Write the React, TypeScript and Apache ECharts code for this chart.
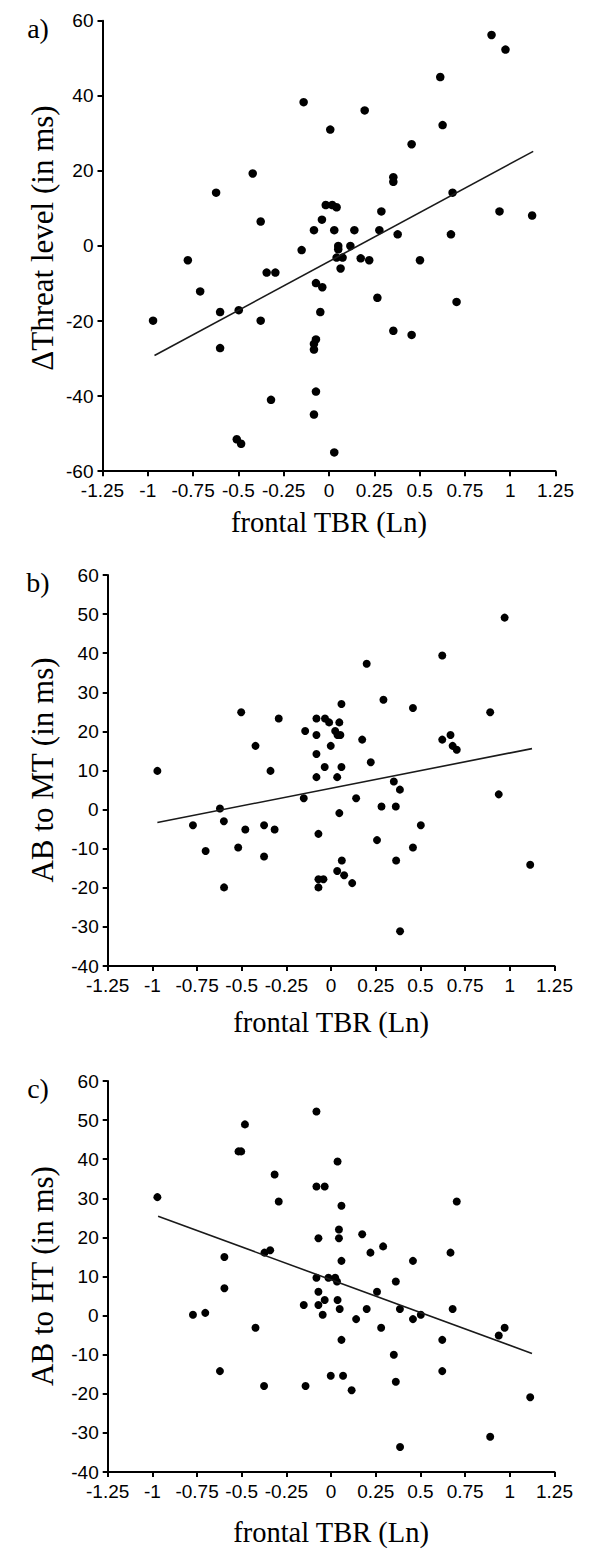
import React, { useEffect, useRef } from "react";
import * as echarts from "echarts";

// ---------- data ----------
const xRange = [-1.25, 1.25];
const xStep = 0.25;

const panelLabels = ["a)", "b)", "c)"];
const yNames = ["\u0394Threat level (in ms)", "AB to MT (in ms)", "AB to HT (in ms)"];
const xName = "frontal TBR (Ln)";

const yRangeA = [-60, 60];
const yStepA = 20;
const yRangeBC = [-40, 60];
const yStepBC = 10;

const threatPoints: number[][] = [
  [0.897, 56.2], [0.974, 52.3], [0.614, 45.0], [-0.14, 38.3], [0.197, 36.1], [0.007, 31.0],
  [0.627, 32.2], [0.456, 27.1], [-0.421, 19.3], [0.355, 18.3], [0.355, 17.1], [-0.623, 14.2],
  [0.682, 14.2], [-0.018, 10.9], [0.018, 10.9], [0.042, 10.3], [0.289, 9.2], [0.941, 9.2],
  [1.121, 8.1], [-0.377, 6.5], [-0.039, 7.0], [-0.083, 4.2], [0.029, 4.2], [0.14, 4.2],
  [0.278, 4.2], [0.379, 3.1], [0.673, 3.1], [0.051, 0], [0.051, -0.9], [0.118, 0],
  [-0.151, -1.1], [-0.779, -3.8], [0.042, -3.1], [0.075, -3.1], [0.175, -3.3], [0.222, -3.8],
  [0.502, -3.8], [0.064, -6.0], [-0.711, -12.1], [-0.344, -7.1], [-0.296, -7.1], [-0.072, -9.9],
  [-0.037, -11.0], [0.267, -13.8], [0.704, -14.9], [-0.601, -17.6], [-0.498, -17.1], [-0.048, -17.6],
  [-0.971, -19.9], [-0.377, -19.9], [0.355, -22.6], [0.456, -23.7], [-0.072, -24.9], [-0.083, -26.1],
  [-0.083, -27.6], [-0.601, -27.2], [-0.072, -38.8], [-0.32, -41.0], [-0.083, -44.9], [-0.509, -51.5],
  [-0.485, -52.7], [0.029, -55.0],
];
const threatFit: number[][] = [[-0.963, -29.2], [1.127, 25.2]];

const mtPoints: number[][] = [
  [0.199, 37.3], [0.622, 39.4], [0.971, 49.1], [0.058, 27.0], [0.293, 28.1], [0.458, 26.0],
  [-0.503, 24.9], [0.89, 24.9], [-0.293, 23.3], [-0.082, 23.3], [-0.034, 23.3], [-0.011, 22.3],
  [0.046, 22.3], [-0.145, 20.1], [-0.082, 19.1], [0.023, 20.1], [0.036, 19.1], [0.052, 19.1],
  [0.174, 17.9], [0.622, 17.9], [0.668, 19.1], [0.68, 16.3], [0.703, 15.3], [-0.423, 16.3],
  [-0.082, 14.2], [-0.002, 16.3], [-0.972, 9.9], [-0.339, 9.9], [-0.036, 10.9], [0.058, 10.9],
  [0.222, 12.1], [-0.082, 8.3], [0.034, 8.3], [0.351, 7.2], [0.385, 5.1], [0.938, 3.9],
  [-0.153, 2.9], [0.14, 2.9], [-0.622, 0.3], [0.282, 0.8], [0.362, 0.8], [0.046, -0.9],
  [-0.6, -3.0], [-0.773, -4.0], [-0.48, -5.1], [-0.375, -4.0], [-0.316, -5.1], [-0.071, -6.2],
  [0.502, -4.0], [0.257, -7.8], [-0.702, -10.6], [-0.52, -9.7], [0.458, -9.7], [-0.375, -12.0],
  [0.06, -13.0], [0.364, -13.0], [1.114, -14.1], [0.034, -15.7], [0.073, -16.8], [-0.071, -17.8],
  [-0.043, -17.8], [0.118, -18.8], [-0.071, -19.9], [-0.599, -19.9], [0.386, -31.1],
];
const mtFit: number[][] = [[-0.972, -3.3], [1.124, 15.6]];

const htPoints: number[][] = [
  [-0.972, 30.3], [-0.482, 48.9], [-0.518, 42.0], [-0.503, 42.0], [-0.082, 52.2], [0.036, 39.4],
  [-0.316, 36.1], [-0.082, 33.0], [-0.036, 33.0], [-0.293, 29.2], [0.058, 28.1], [0.703, 29.2],
  [0.044, 22.0], [0.044, 19.8], [-0.071, 19.8], [0.174, 20.8], [0.291, 17.7], [0.22, 16.1],
  [0.668, 16.1], [-0.373, 16.1], [-0.341, 16.7], [-0.597, 15.0], [0.058, 14.0], [0.458, 14.0],
  [-0.082, 9.7], [-0.015, 9.7], [0.023, 9.7], [0.033, 8.7], [0.362, 8.7], [-0.597, 7.0],
  [-0.071, 6.1], [0.257, 6.1], [-0.036, 4.0], [0.036, 4.0], [-0.153, 2.7], [-0.071, 2.7],
  [0.048, 1.7], [0.199, 1.7], [0.385, 1.7], [0.68, 1.7], [-0.773, 0.2], [-0.704, 0.7],
  [-0.047, 0.2], [0.502, 0.2], [0.14, -0.9], [0.458, -0.9], [-0.423, -3.1], [0.28, -3.1],
  [0.971, -3.1], [0.938, -5.1], [0.058, -6.2], [0.622, -6.2], [0.351, -10.0], [-0.622, -14.2],
  [0.622, -14.2], [-0.002, -15.4], [0.067, -15.4], [-0.375, -18.0], [-0.143, -18.0], [0.115, -19.1],
  [0.362, -16.9], [1.114, -20.9], [0.89, -31.0], [0.386, -33.6],
];
const htFit: number[][] = [[-0.968, 25.4], [1.124, -9.7]];

// ---------- layout ----------
const W = 596;
const H = 1553;
const grids = [
  { left: 102.5, top: 20.7, width: 453, height: 450.5 },
  { left: 107.7, top: 575, width: 446.8, height: 391 },
  { left: 107.7, top: 1081, width: 446.8, height: 391 },
];

const tickFont = "Liberation Sans";
const serif = "'Liberation Serif', serif";

export default function App() {
  const ref = useRef<HTMLDivElement>(null);

  useEffect(() => {
    if (!ref.current) return;
    const chart = echarts.init(ref.current, undefined, { renderer: "svg", width: W, height: H });

    const pointsList = [threatPoints, mtPoints, htPoints];
    const fitList = [threatFit, mtFit, htFit];
    const yRanges = [yRangeA, yRangeBC, yRangeBC];
    const ySteps = [yStepA, yStepBC, yStepBC];

    const axisCommon = {
      axisLine: { show: true, onZero: false, lineStyle: { color: "#000", width: 2 } },
      axisTick: { show: true, inside: false, length: 5, lineStyle: { color: "#000", width: 2 } },
      splitLine: { show: false },
      axisLabel: { color: "#000", fontFamily: tickFont, fontSize: 19, lineHeight: 19, hideOverlap: false },
    };

    const xAxes = grids.map((_, i) => ({
      ...axisCommon,
      type: "value",
      gridIndex: i,
      min: xRange[0],
      max: xRange[1],
      interval: xStep,
      axisLabel: { ...axisCommon.axisLabel, margin: 9.5 },
    }));
    const yAxes = grids.map((_, i) => ({
      ...axisCommon,
      type: "value",
      gridIndex: i,
      min: yRanges[i][0],
      max: yRanges[i][1],
      interval: ySteps[i],
      axisLabel: { ...axisCommon.axisLabel, margin: 9 },
    }));

    const series: any[] = [];
    grids.forEach((_, i) => {
      series.push({
        type: "scatter",
        xAxisIndex: i,
        yAxisIndex: i,
        data: pointsList[i],
        symbol: "circle",
        symbolSize: i === 0 ? 8.5 : 8,
        itemStyle: { color: "#000", opacity: 1 },
        silent: true,
      });
      series.push({
        type: "line",
        xAxisIndex: i,
        yAxisIndex: i,
        data: fitList[i],
        symbol: "none",
        lineStyle: { color: "#1a1a1a", width: 1.6 },
        silent: true,
      });
    });

    const graphics: any[] = [];
    const labelY = [28, 582, 1088];
    const yNameCenterY = [238, 770, 1276];
    const xNameY = [522, 1022, 1532];
    grids.forEach((g, i) => {
      graphics.push({
        type: "text",
        x: 38,
        y: labelY[i],
        style: { text: panelLabels[i], font: `28px ${serif}`, fill: "#000", textAlign: "center", textVerticalAlign: "middle" },
      });
      graphics.push({
        type: "text",
        x: 42,
        y: yNameCenterY[i],
        rotation: Math.PI / 2,
        style: { text: yNames[i], font: `31px ${serif}`, fill: "#000", textAlign: "center", textVerticalAlign: "middle" },
      });
      graphics.push({
        type: "text",
        x: g.left + g.width / 2,
        y: xNameY[i],
        style: { text: xName, font: `28.5px ${serif}`, fill: "#000", textAlign: "center", textVerticalAlign: "middle" },
      });
    });

    chart.setOption({
      animation: false,
      backgroundColor: "#fff",
      grid: grids.map((g) => ({ ...g, containLabel: false })),
      xAxis: xAxes,
      yAxis: yAxes,
      series,
      graphic: graphics,
    });

    return () => chart.dispose();
  }, []);

  return (
    <div
      ref={ref}
      style={{ position: "absolute", left: 0, top: 0, width: W, height: H, background: "#fff" }}
    />
  );
}
